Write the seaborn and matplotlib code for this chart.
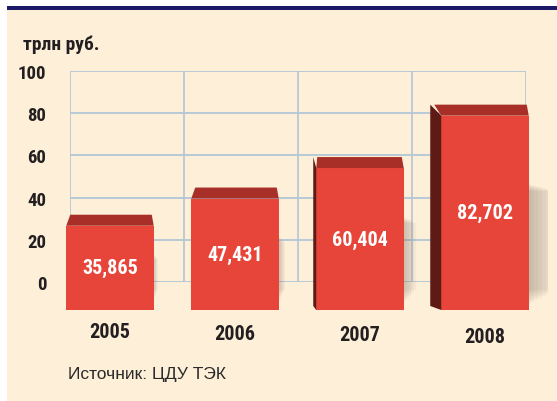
import matplotlib
matplotlib.use("Agg")
import matplotlib.pyplot as plt
import seaborn as sns
import pandas as pd
from matplotlib.patches import Rectangle, Polygon

years = ["2005", "2006", "2007", "2008"]
values = [35.865, 47.431, 60.404, 82.702]
value_labels = ["35,865", "47,431", "60,404", "82,702"]
yticks = [0, 20, 40, 60, 80, 100]
unit_label = "трлн руб."
source_label = "Источник: ЦДУ ТЭК"

sns.set_theme(style="white")
plt.rcParams['font.family'] = ['Roboto Condensed', 'DejaVu Sans']
plt.rcParams['font.stretch'] = 'condensed'

W, H = 557, 402
fig = plt.figure(figsize=(W / 100, H / 100), dpi=100)
fig.patch.set_facecolor("white")

def fx(px):
    return px / W

def fy(py):
    return 1 - py / H

# background panel and top rule
fig.patches.append(Rectangle((fx(7), 0), fx(W - 7), fy(11), transform=fig.transFigure,
                             facecolor="#fdefd8", edgecolor="none", zorder=-5))
fig.patches.append(Rectangle((fx(7), fy(11)), fx(W - 7), 4 / H, transform=fig.transFigure,
                             facecolor="#1c1a66", edgecolor="none", zorder=-5))

dark = "#231f20"

# background grid axes (perspective back wall)
ax_bg = fig.add_axes([fx(70), fy(283), fx(526 - 70), (283 - 72) / H])
ax_bg.set_facecolor("none")
ax_bg.set_ylim(0, 100)
ax_bg.set_xlim(0, 4)
ax_bg.set_yticks(yticks)
ax_bg.set_yticklabels([str(t) for t in yticks], fontsize=13.5, fontweight="bold", color=dark)
ax_bg.set_xticks([])
for t in yticks:
    ax_bg.axhline(t, color="#a9c3d6", lw=1.2, zorder=1)
for xv in range(5):
    ax_bg.axvline(xv, color="#b4c4d6", lw=1.2, zorder=1)
for s in ax_bg.spines.values():
    s.set_visible(False)
ax_bg.tick_params(axis="y", length=0, pad=17)

# bar axes
ax = fig.add_axes([fx(47.5), fy(311), fx(500), 235 / H])
ax.set_facecolor("none")
df = pd.DataFrame({"year": years, "value": values})
sns.barplot(data=df, x="year", y="value", ax=ax, color="#e8453a", width=0.7,
            saturation=1, edgecolor="none", zorder=3)
ax.set_ylim(0, 100)
ax.set_xlim(-0.5, 3.5)
ax.axis("off")

# 3D top faces and sides, soft shadows
px_x = 4 / 500   # data units per pixel (x)
px_y = 100 / 235  # data units per pixel (y)
side_px = [0, 0, 3, 11]
shadow_px = [6, 8, 14, 30]
for i, p in enumerate(list(ax.patches)):
    x0 = p.get_x()
    x1 = x0 + p.get_width()
    top = p.get_height()
    d = 11 * px_y
    sw = shadow_px[i]
    for k in range(8):
        ax.add_patch(Rectangle((x1 - 2 * px_x, (6 + 2 * k) * px_y), sw * (k + 1) / 8 * px_x,
                               top * 0.62 - 3 * k * px_y, facecolor="#6b5a50",
                               alpha=0.05, edgecolor="none", zorder=2))
    ax.add_patch(Polygon([(x0, top), (x1, top), (x1 - 2 * px_x, top + d),
                          (x0 + 4 * px_x - side_px[i] * px_x, top + d)],
                         closed=True, facecolor="#a82f27", edgecolor="none", zorder=3))
    if side_px[i]:
        ax.add_patch(Polygon([(x0, 0), (x0, top), (x0 - side_px[i] * px_x, top + d),
                              (x0 - side_px[i] * px_x, 4 * px_y)],
                             closed=True, facecolor="#5e1a15", edgecolor="none", zorder=3))
    ax.text(x0 + p.get_width() / 2, top / 2, value_labels[i], ha="center", va="center",
            fontsize=14.5, fontweight="bold", color="white", zorder=5)
    ax.text(x0 + p.get_width() / 2, -22 * px_y - i * 1.5 * px_y, years[i], ha="center", va="center",
            fontsize=14.5, fontweight="bold", color=dark, zorder=5, clip_on=False)

fig.text(fx(23), fy(45), unit_label, ha="left", va="center", fontsize=14,
         fontweight="bold", color=dark)
fig.text(fx(68), fy(375), source_label, ha="left", va="center", fontsize=12.5,
         color="#2a2a2a", family=["Liberation Sans", "DejaVu Sans"], stretch="normal")

fig.savefig("out.png", dpi=100, facecolor=fig.get_facecolor())
